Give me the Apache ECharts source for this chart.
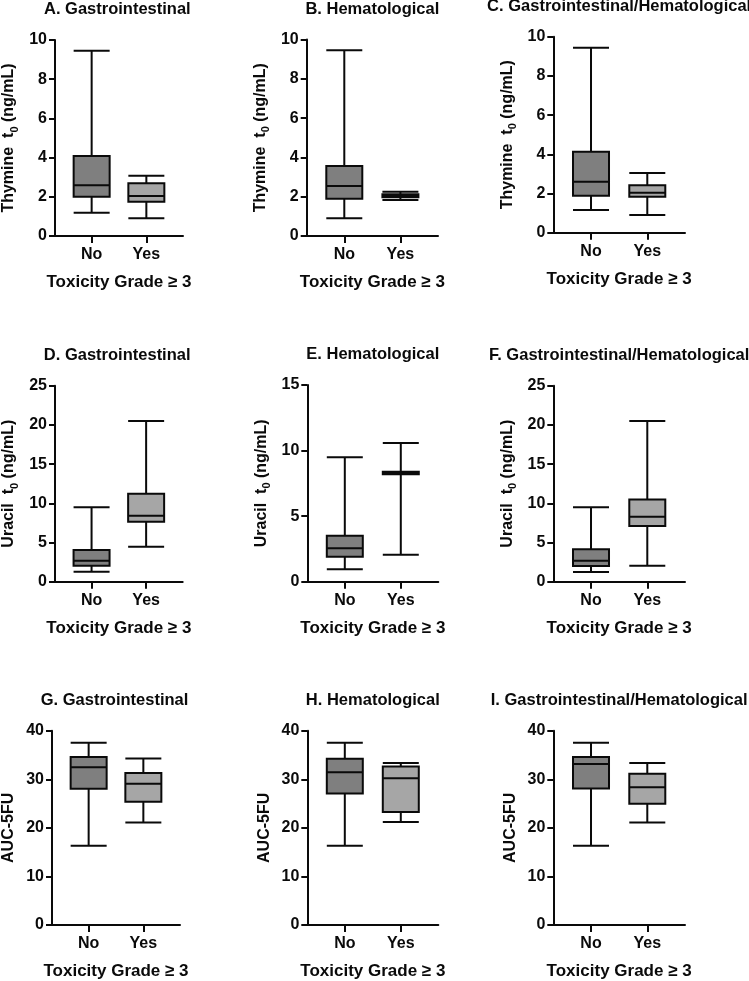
<!DOCTYPE html>
<html>
<head>
<meta charset="utf-8">
<script src="https://cdn.jsdelivr.net/npm/echarts@6/dist/echarts.min.js"></script>
<style>
  html, body { margin: 0; padding: 0; background: #fff; }
  #chart { width: 749px; height: 981px; }
</style>
</head>
<body>
<div id="chart"></div>
<script>
// groups on the x axis
var groups = ['No', 'Yes'];

// box values: [min, Q1, median, Q3, max] for No and Yes
var thymineGI   = [[1.19, 2.00, 2.59, 4.08, 9.45], [0.90, 1.75, 2.04, 2.69, 3.08]];
var thymineHem  = [[0.90, 1.90, 2.54, 3.56, 9.45], [1.83, 1.97, 2.03, 2.12, 2.25]];
var thymineBoth = [[1.16, 1.89, 2.60, 4.13, 9.44], [0.90, 1.84, 2.04, 2.42, 3.05]];

var uracilGI   = [[1.28, 2.04, 2.68, 4.04, 9.49], [4.46, 7.65, 8.42, 11.22, 20.5]];
var uracilHem  = [[0.94, 1.91, 2.55, 3.51, 9.49], [2.06, 8.20, 8.29, 8.38, 10.58]];
var uracilBoth = [[1.24, 2.00, 2.68, 4.13, 9.49], [2.04, 7.10, 8.29, 10.5, 20.5]];

var aucGI   = [[16.33, 28.04, 32.5, 34.57, 37.5], [21.1, 25.39, 29.06, 31.3, 34.3]];
var aucHem  = [[16.33, 27.08, 31.43, 34.2, 37.5], [21.22, 23.27, 30.2, 32.65, 33.35]];
var aucBoth = [[16.33, 28.1, 33.14, 34.57, 37.5], [21.1, 24.98, 28.37, 31.16, 33.35]];

var titles = [
  'A. Gastrointestinal', 'B. Hematological', 'C. Gastrointestinal/Hematological',
  'D. Gastrointestinal', 'E. Hematological', 'F. Gastrointestinal/Hematological',
  'G. Gastrointestinal', 'H. Hematological', 'I. Gastrointestinal/Hematological'
];

var font = 'Liberation Sans, Arial, Helvetica, sans-serif';
var ink = '#0a0a0a';
var fills = ['#7f7f7f', '#a6a6a6'];

// plot rectangles [x0, y0, x1, y1]
var rects = [
  [51.7, 40, 183, 236], [306.7, 39.5, 438, 236], [553.3, 36.7, 685, 232.7],
  [51.7, 385.7, 182.7, 581.7], [307.3, 385, 438.3, 581.7], [553.3, 385.7, 685, 581.7],
  [49, 730.7, 180, 926.7], [307.3, 730.7, 438.3, 926.7], [553.3, 730.7, 685, 926.7]
];

var thyName = 'Thymine  t{s|0} (ng/mL)';
var uraName = 'Uracil  t{s|0} (ng/mL)';
var aucName = 'AUC-5FU';

var panels = [
  { data: thymineGI,   yName: thyName, yMax: 10, step: 2 },
  { data: thymineHem,  yName: thyName, yMax: 10, step: 2 },
  { data: thymineBoth, yName: thyName, yMax: 10, step: 2 },
  { data: uracilGI,    yName: uraName, yMax: 25, step: 5 },
  { data: uracilHem,   yName: uraName, yMax: 15, step: 5 },
  { data: uracilBoth,  yName: uraName, yMax: 25, step: 5 },
  { data: aucGI,       yName: aucName, yMax: 40, step: 10 },
  { data: aucHem,      yName: aucName, yMax: 40, step: 10 },
  { data: aucBoth,     yName: aucName, yMax: 40, step: 10 }
];

var chart = echarts.init(document.getElementById('chart'));

var option = {
  backgroundColor: '#fff',
  animation: false,
  title: [],
  grid: [],
  xAxis: [],
  yAxis: [],
  series: []
};

panels.forEach(function (p, i) {
  var r = rects[i];
  option.title.push({
    text: titles[i],
    left: (r[0] + r[2]) / 2,
    top: r[1] - 30.5,
    textAlign: 'center',
    textVerticalAlign: 'middle',
    padding: 0,
    textStyle: { fontSize: 16.5, fontWeight: 'bold', color: ink, fontFamily: font }
  });
  option.grid.push({
    left: r[0], top: r[1], width: r[2] - r[0], height: r[3] - r[1],
    containLabel: false
  });
  option.xAxis.push({
    type: 'value',
    gridIndex: i,
    min: 0.33,
    max: 2.67,
    name: 'Toxicity Grade ≥ 3',
    nameLocation: 'middle',
    nameGap: 38,
    nameTextStyle: { fontSize: 17, fontWeight: 'bold', color: ink, fontFamily: font },
    splitLine: { show: false },
    axisLine: { lineStyle: { color: ink, width: 2 } },
    axisTick: { customValues: [1, 2], length: 7, lineStyle: { color: ink, width: 2 } },
    axisLabel: {
      customValues: [1, 2],
      margin: 11,
      fontSize: 16, fontWeight: 'bold', color: ink, fontFamily: font,
      formatter: function (v) { return groups[Math.round(v) - 1]; }
    }
  });
  option.yAxis.push({
    type: 'value',
    gridIndex: i,
    min: 0,
    max: p.yMax,
    interval: p.step,
    name: p.yName,
    nameLocation: 'middle',
    nameRotate: 90,
    nameGap: 35,
    nameTextStyle: {
      fontSize: 16, fontWeight: 'bold', color: ink, fontFamily: font,
      rich: {
        s: { fontSize: 11, fontWeight: 'bold', color: ink, fontFamily: font, verticalAlign: 'bottom', lineHeight: 22 }
      }
    },
    splitLine: { show: false },
    axisLine: { show: true, lineStyle: { color: ink, width: 2 } },
    axisTick: { show: true, length: 6, lineStyle: { color: ink, width: 2 } },
    axisLabel: { margin: 8, fontSize: 16, fontWeight: 'bold', color: ink, fontFamily: font }
  });
  option.series.push({
    type: 'boxplot',
    xAxisIndex: i,
    yAxisIndex: i,
    boxWidth: [36, 36],
    data: p.data.map(function (d, k) {
      return {
        value: [k + 1].concat(d),
        itemStyle: { color: fills[k], borderColor: ink, borderWidth: 2 }
      };
    })
  });
});

chart.setOption(option);
</script>
</body>
</html>
